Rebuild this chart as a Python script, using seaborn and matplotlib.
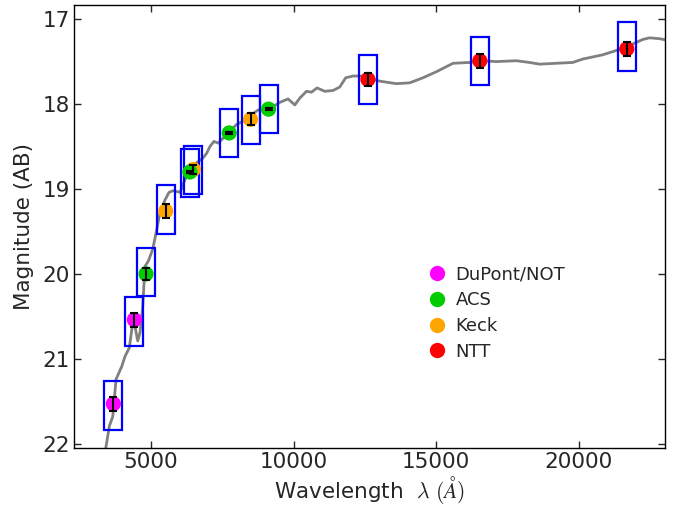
import numpy as np
import pandas as pd
import matplotlib
matplotlib.use("Agg")
import matplotlib.pyplot as plt
from matplotlib.patches import Rectangle
import seaborn as sns

# ---- data ----
band_wave = [3680, 4415, 4825, 5515, 6481, 6365, 7741, 8490, 9120, 12602, 16526, 21678]
band_mag = [21.53, 20.54, 20.00, 19.26, 18.77, 18.80, 18.34, 18.18, 18.06, 17.71, 17.49, 17.35]
band_err = [0.08, 0.08, 0.07, 0.08, 0.05, 0.01, 0.01, 0.07, 0.01, 0.08, 0.08, 0.08]
band_inst = ["DuPont/NOT", "DuPont/NOT", "ACS", "Keck", "Keck", "ACS", "ACS", "Keck", "ACS",
             "NTT", "NTT", "NTT"]
model_mag = [21.55, 20.56, 19.98, 19.24, 18.78, 18.81, 18.34, 18.19, 18.06, 17.71, 17.49, 17.32]

spec_wave = [3380, 3415, 3541, 3659, 3775, 3974, 4090, 4240, 4324, 4380, 4440, 4534, 4615,
             4709, 4790, 4905, 5060, 5175, 5315, 5490, 5630, 5780, 6015, 6190, 6390, 6600,
             6810, 6950, 7065, 7205, 7355, 7530, 7765, 8000, 8235, 8465, 8755, 9050, 9280,
             9515, 9805, 10040, 10215, 10450, 10625, 10820, 11090, 11380, 11615, 11825,
             12085, 12430, 13015, 13600, 14070, 14535, 15000, 15585, 16170, 16630, 17100,
             17800, 18265, 18615, 19200, 19785, 20135, 20835, 21300, 21770, 22235, 22470,
             22815, 22970, 23100]
spec_mag = [22.40, 22.05, 21.79, 21.68, 21.24, 21.09, 20.97, 20.87, 20.66, 20.56, 20.62,
            20.79, 20.69, 20.38, 19.91, 19.85, 19.71, 19.52, 19.28, 19.13, 19.04, 19.02,
            19.04, 18.89, 18.77, 18.69, 18.64, 18.58, 18.50, 18.44, 18.46, 18.40, 18.32,
            18.24, 18.20, 18.14, 18.07, 18.07, 18.03, 17.98, 17.94, 18.01, 17.93, 17.85,
            17.86, 17.81, 17.85, 17.84, 17.80, 17.69, 17.67, 17.67, 17.73, 17.76, 17.75,
            17.69, 17.62, 17.52, 17.51, 17.49, 17.50, 17.49, 17.51, 17.53, 17.52, 17.51,
            17.47, 17.42, 17.37, 17.31, 17.24, 17.22, 17.23, 17.24, 17.25]

inst_order = ["DuPont/NOT", "ACS", "Keck", "NTT"]
inst_colors = ["#ff00ff", "#00cc00", "#ffa500", "#ff0000"]

xlim = (2300, 23000)
ylim = (22.05, 16.83)
xticks = [5000, 10000, 15000, 20000]
yticks = [17, 18, 19, 20, 21, 22]

# ---- style ----
sns.set_style("ticks")
plt.rcParams["font.family"] = ["DejaVu Sans"]
plt.rcParams["mathtext.fontset"] = "cm"

fig = plt.figure(figsize=(6.87, 5.05), dpi=100)
ax = fig.add_axes([0.1077, 0.1129, 0.8596, 0.8778])

spec = pd.DataFrame({"wave": spec_wave, "mag": spec_mag})
sns.lineplot(data=spec, x="wave", y="mag", ax=ax, color="#808080", lw=2, sort=False,
             zorder=1)

# model boxes
box_hw = 315
box_hh = 0.285
for w, m in zip(band_wave, model_mag):
    ax.add_patch(Rectangle((w - box_hw, m - box_hh), 2 * box_hw, 2 * box_hh,
                           fill=False, edgecolor="#0000ff", lw=1.6, zorder=2))

phot = pd.DataFrame({"wave": band_wave, "mag": band_mag, "err": band_err,
                     "inst": band_inst})
sns.scatterplot(data=phot, x="wave", y="mag", hue="inst", hue_order=inst_order,
                palette=inst_colors, s=120, linewidth=0, ax=ax, zorder=3)
ax.errorbar(band_wave, band_mag, yerr=band_err, fmt="none", ecolor="black",
            elinewidth=1.5, capsize=3, capthick=1.5, zorder=4)

ax.set_xlim(*xlim)
ax.set_ylim(*ylim)
ax.set_xticks(xticks)
ax.set_yticks(yticks)
ax.tick_params(direction="in", top=True, right=True, length=5, width=1,
               labelsize=15.5, pad=3)
for sp in ax.spines.values():
    sp.set_linewidth(1)
    sp.set_color("black")

ax.set_xlabel(r"Wavelength  $\lambda\ (\AA)$", fontsize=15.5, labelpad=1)
ax.set_ylabel("Magnitude (AB)", fontsize=15.5, labelpad=6)

handles, labels = ax.get_legend_handles_labels()
for h in handles:
    try:
        h.set_markersize(11)
    except Exception:
        pass
ax.legend(handles, labels, loc="upper left", bbox_to_anchor=(0.603, 0.4117),
          frameon=False, fontsize=13, handlelength=0.8, handletextpad=0.6,
          labelspacing=0.43, borderpad=0, borderaxespad=0)

fig.savefig("out.png", dpi=100)
